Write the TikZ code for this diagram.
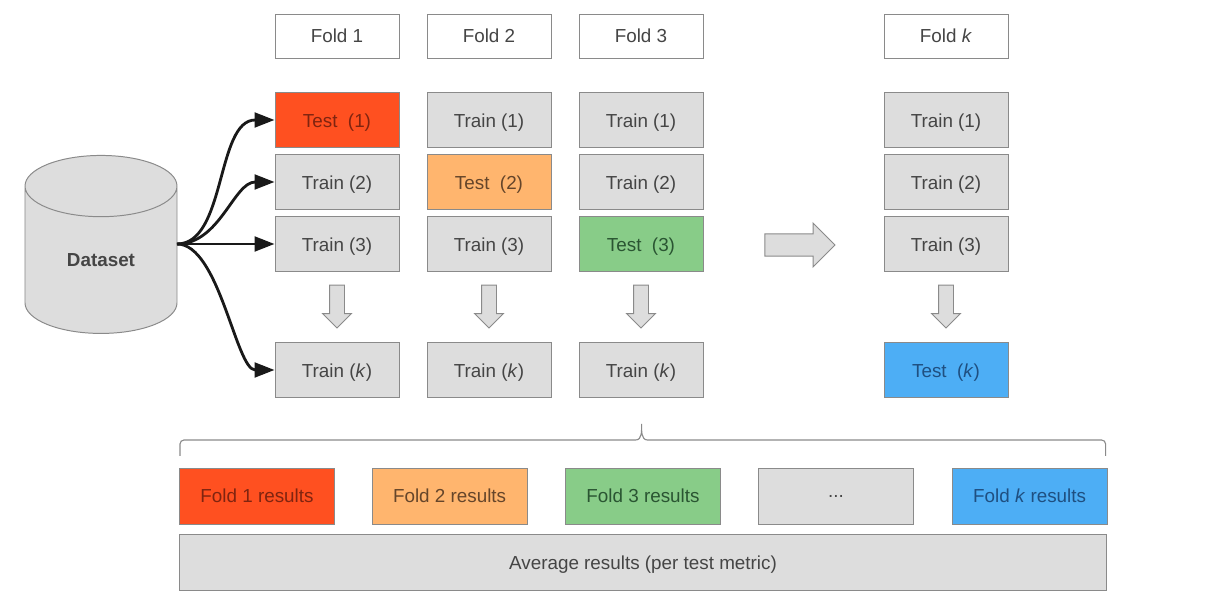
\documentclass[tikz,border=0pt]{standalone}
\usepackage{fontspec}
\setmainfont{Liberation Sans}
\usepackage{tikz}
\usetikzlibrary{shapes.geometric, shapes.arrows, arrows.meta}

\definecolor{boxline}{HTML}{8A8A8A}
\definecolor{boxgrey}{HTML}{DDDDDD}
\definecolor{boxtext}{HTML}{454545}
\definecolor{redfill}{HTML}{FF5020}
\definecolor{redtext}{HTML}{7F2410}
\definecolor{orangefill}{HTML}{FFB56E}
\definecolor{orangetext}{HTML}{65452A}
\definecolor{greenfill}{HTML}{88CC88}
\definecolor{greentext}{HTML}{2A5532}
\definecolor{bluefill}{HTML}{4DAEF5}
\definecolor{bluetext}{HTML}{1F4F80}

\begin{document}
\begin{tikzpicture}[
		every node/.style={draw=boxline, line width=0.7pt, text=boxtext, inner sep=0pt, font=\fontsize{13.4}{16}\selectfont},
		fold/.style={rectangle, fill=white, minimum width=3.1cm, minimum height=1.1cm},
		box/.style={rectangle, fill=boxgrey, minimum width=3.1cm, minimum height=1.375cm, text height=12pt, text depth=2pt},
		result/.style={rectangle, minimum width=3.875cm, minimum height=1.4cm},
		down/.style={single arrow, fill=boxgrey, shape border rotate=270, inner sep=0.175cm, minimum width=0.7cm, minimum height=1.075cm, single arrow head extend=0.175cm},
		flow/.style={line width=2pt, black!90, -{Stealth[length=0.5cm, width=0.37cm, inset=0pt]}},
		red/.style={fill=redfill, text=redtext},
		orange/.style={fill=orangefill, text=orangetext},
		green/.style={fill=greenfill, text=greentext},
		blue/.style={fill=bluefill, text=bluetext}
	]
  \useasboundingbox (0cm, 0cm) rectangle (30.525cm, 15.15cm);
  % dataset
  \node (data) [cylinder, shape border rotate=90, aspect=0.9, cylinder uses custom fill, cylinder body fill=boxgrey, cylinder end fill=boxgrey, minimum width=3.8cm, minimum height=4.45cm, font=\fontsize{13.4}{16}\selectfont\bfseries] at (2.525cm, 8.65cm) {Dataset};
  \coordinate (data_out) at (4.425cm, 9.05cm);
  % fold 1
  \node (fold_1) [fold] at (8.425cm, 14.25cm) {Fold 1};
  \node (f1_1) [box, red] at (8.425cm, 12.15cm) {Test\ \ (1)};
  \node (f1_2) [box] at (8.425cm, 10.6cm) {Train (2)};
  \node (f1_3) [box] at (8.425cm, 9.05cm) {Train (3)};
  \node (f1_k) [box] at (8.425cm, 5.9cm) {Train (\textit{k})};
  \node (f1_a) [down] at (8.425cm, 7.58cm) {};
  % fold 2
  \node (fold_2) [fold] at (12.225cm, 14.25cm) {Fold 2};
  \node (f2_1) [box] at (12.225cm, 12.15cm) {Train (1)};
  \node (f2_2) [box, orange] at (12.225cm, 10.6cm) {Test\ \ (2)};
  \node (f2_3) [box] at (12.225cm, 9.05cm) {Train (3)};
  \node (f2_k) [box] at (12.225cm, 5.9cm) {Train (\textit{k})};
  \node (f2_a) [down] at (12.225cm, 7.58cm) {};
  % fold 3
  \node (fold_3) [fold] at (16.025cm, 14.25cm) {Fold 3};
  \node (f3_1) [box] at (16.025cm, 12.15cm) {Train (1)};
  \node (f3_2) [box] at (16.025cm, 10.6cm) {Train (2)};
  \node (f3_3) [box, green] at (16.025cm, 9.05cm) {Test\ \ (3)};
  \node (f3_k) [box] at (16.025cm, 5.9cm) {Train (\textit{k})};
  \node (f3_a) [down] at (16.025cm, 7.58cm) {};
  % fold k
  \node (fold_k) [fold] at (23.65cm, 14.25cm) {Fold \textit{k}};
  \node (fk_1) [box] at (23.65cm, 12.15cm) {Train (1)};
  \node (fk_2) [box] at (23.65cm, 10.6cm) {Train (2)};
  \node (fk_3) [box] at (23.65cm, 9.05cm) {Train (3)};
  \node (fk_k) [box, blue] at (23.65cm, 5.9cm) {Test\ \ (\textit{k})};
  \node (fk_a) [down] at (23.65cm, 7.58cm) {};
  \node (skip) [single arrow, fill=boxgrey, inner sep=0.265cm, minimum width=1.075cm, minimum height=1.75cm, single arrow head extend=0.27cm] at (19.86cm, 9.025cm) {};
  % results
  \node (res_1) [result, red] at (6.425cm, 2.75cm) {Fold 1 results};
  \node (res_2) [result, orange] at (11.24cm, 2.75cm) {Fold 2 results};
  \node (res_3) [result, green] at (16.075cm, 2.75cm) {Fold 3 results};
  \node (res_d) [result, fill=boxgrey] at (20.9cm, 2.75cm) {...};
  \node (res_k) [result, blue] at (25.74cm, 2.75cm) {Fold \textit{k} results};
  \node (average) [rectangle, fill=boxgrey, minimum width=23.175cm, minimum height=1.4cm, text height=12pt, text depth=2pt] at (16.075cm, 1.1cm) {Average results (per test metric)};
  % brace
  \coordinate (brace_l) at (4.5cm, 3.75cm);
  \coordinate (brace_t) at (16.04cm, 4.55cm);
  \coordinate (brace_r) at (27.64cm, 3.75cm);
  \draw [boxline, line width=0.8pt] (brace_l) -- ++(0, 0.3cm) to [out=90, in=180] ++(0.1cm, 0.1cm) -- ++(11.29cm, 0) to [out=0, in=270] (brace_t) to [out=270, in=180] ++(0.15cm, -0.4cm) -- ++(11.35cm, 0) to [out=0, in=90] ++(0.1cm, -0.1cm) -- (brace_r);
  % arrows from the dataset
  \draw [flow] (data_out) to [out=0, in=180, out looseness=0.8, in looseness=0.95] (f1_1.west);
  \draw [flow] (data_out) to [out=0, in=180, out looseness=0.95, in looseness=0.9] (f1_2.west);
  \draw [flow] (data_out) -- (f1_3.west);
  \draw [flow] (data_out) to [out=0, in=180, out looseness=0.68, in looseness=0.62] (f1_k.west);
\end{tikzpicture}
\end{document}
